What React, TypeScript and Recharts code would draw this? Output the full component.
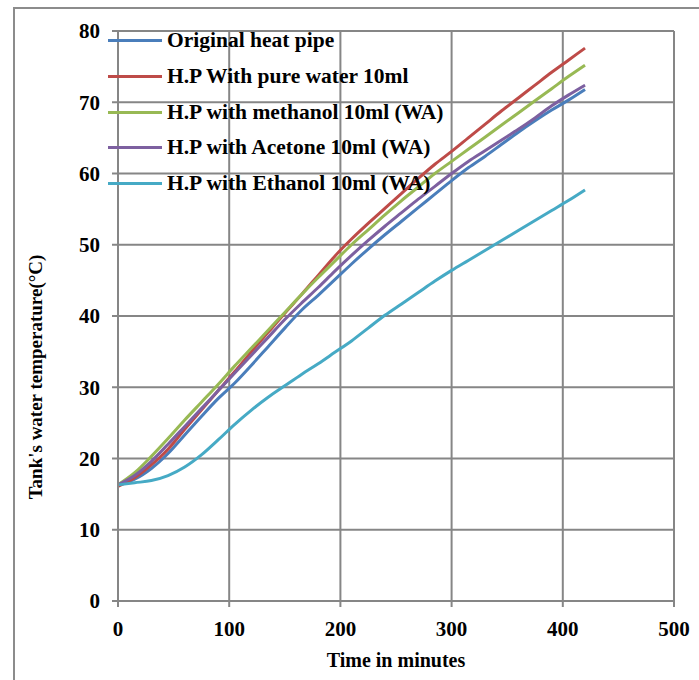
import { LineChart, Line, XAxis, YAxis, CartesianGrid, Legend } from 'recharts'

const times = [0, 15, 30, 45, 60, 75, 90, 105, 120, 135, 150, 165, 180, 195, 210, 225, 240, 255, 270, 285, 300, 315, 330, 345, 360, 375, 390, 405, 420]

const original = [16.3, 17.1, 18.6, 20.7, 23.3, 25.9, 28.4, 30.6, 33.1, 35.7, 38.3, 40.8, 42.9, 45.1, 47.3, 49.4, 51.4, 53.3, 55.2, 57.1, 59.0, 60.8, 62.4, 64.1, 65.8, 67.4, 68.9, 70.3, 71.8]
const pureWater = [16.1, 17.3, 19.1, 21.3, 24.1, 26.8, 29.5, 32.2, 35.0, 37.7, 40.4, 43.0, 45.7, 48.4, 50.8, 53.0, 55.1, 57.2, 59.3, 61.3, 63.1, 65.0, 66.9, 68.8, 70.6, 72.4, 74.2, 75.9, 77.6]
const methanol = [16.3, 18.0, 20.3, 22.8, 25.4, 27.9, 30.4, 33.0, 35.5, 38.0, 40.5, 43.0, 45.4, 47.7, 50.0, 52.1, 54.2, 56.2, 58.1, 60.0, 61.7, 63.4, 65.1, 66.8, 68.5, 70.2, 71.9, 73.6, 75.2]
const acetone = [16.3, 17.6, 19.6, 22.0, 24.5, 27.0, 29.5, 32.0, 34.5, 37.0, 39.5, 41.8, 44.0, 46.3, 48.5, 50.6, 52.6, 54.5, 56.4, 58.2, 60.0, 61.7, 63.2, 64.7, 66.2, 67.8, 69.5, 71.0, 72.4]
const ethanol = [16.3, 16.6, 16.9, 17.6, 18.8, 20.5, 22.6, 24.8, 26.8, 28.6, 30.2, 31.8, 33.3, 34.9, 36.5, 38.3, 40.1, 41.7, 43.3, 44.9, 46.4, 47.8, 49.2, 50.6, 52.0, 53.4, 54.8, 56.2, 57.7]

const xTicks = [0, 100, 200, 300, 400, 500]
const yTicks = [0, 10, 20, 30, 40, 50, 60, 70, 80]

const SERIES = [
  { key: 'original', name: 'Original heat pipe', color: '#4a7ebb' },
  { key: 'pureWater', name: 'H.P With pure water 10ml', color: '#be4b48' },
  { key: 'methanol', name: 'H.P with methanol 10ml (WA)', color: '#98b954' },
  { key: 'acetone', name: 'H.P with Acetone 10ml (WA)', color: '#7d60a0' },
  { key: 'ethanol', name: 'H.P with Ethanol 10ml (WA)', color: '#46aac5' },
]

const data = times.map((t, i) => ({
  t,
  original: original[i],
  pureWater: pureWater[i],
  methanol: methanol[i],
  acetone: acetone[i],
  ethanol: ethanol[i],
}))

const FONT = "'Liberation Serif', 'Times New Roman', serif"
const GRID = '#868686'

function renderLegend() {
  return (
    <div style={{ fontFamily: FONT, fontWeight: 'bold', fontSize: 21.5, color: '#000' }}>
      {SERIES.map(s => (
        <div key={s.key} style={{ display: 'flex', alignItems: 'center', height: 35.7 }}>
          <div style={{ width: 54, height: 3, background: s.color, marginRight: 5 }} />
          <span style={{ whiteSpace: 'nowrap' }}>{s.name}</span>
        </div>
      ))}
    </div>
  )
}

function YTitle() {
  return (
    <text
      x={35}
      y={377}
      transform="rotate(-90, 35, 377)"
      textAnchor="middle"
      dominantBaseline="central"
      style={{ fontFamily: FONT, fontWeight: 'bold', fontSize: 19, fill: '#000' }}
    >
      Tank's water temperature(°C)
    </text>
  )
}

export default function App() {
  return (
    <div style={{ position: 'absolute', left: 0, top: 0, width: 699, height: 680, background: '#fff', overflow: 'hidden' }}>
      <div style={{ position: 'absolute', left: 13, top: 7, width: 720, height: 720, borderLeft: '2px solid #8c8c8c', borderTop: '2px solid #8c8c8c' }} />
      <div style={{ position: 'absolute', left: 0, top: 0 }}>
        <LineChart width={699} height={680} data={data} margin={{ top: 31, right: 25, bottom: 39, left: 58 }}>
          <CartesianGrid stroke={GRID} strokeWidth={2} />
          <XAxis
            dataKey="t"
            type="number"
            domain={[0, 500]}
            ticks={xTicks}
            stroke={GRID}
            strokeWidth={2}
            tickSize={6}
            tickMargin={14}
            height={40}
            tick={{ fontFamily: FONT, fontWeight: 'bold', fontSize: 21, fill: '#000' }}
            label={{ value: 'Time in minutes', position: 'insideBottom', offset: -26, style: { fontFamily: FONT, fontWeight: 'bold', fontSize: 20, fill: '#000' } }}
          />
          <YAxis
            type="number"
            domain={[0, 80]}
            ticks={yTicks}
            stroke={GRID}
            strokeWidth={2}
            tickSize={6}
            tickMargin={12}
            width={60}
            tick={{ fontFamily: FONT, fontWeight: 'bold', fontSize: 21, fill: '#000' }}
            label={<YTitle />}
          />
          <Legend
            layout="vertical"
            align="center"
            verticalAlign="middle"
            content={renderLegend}
            wrapperStyle={{ left: 108, top: 23, width: 420, height: 180 }}
          />
          {SERIES.map(s => (
            <Line
              key={s.key}
              dataKey={s.key}
              name={s.name}
              type="monotone"
              stroke={s.color}
              strokeWidth={3}
              dot={false}
              isAnimationActive={false}
            />
          ))}
        </LineChart>
      </div>
    </div>
  )
}
